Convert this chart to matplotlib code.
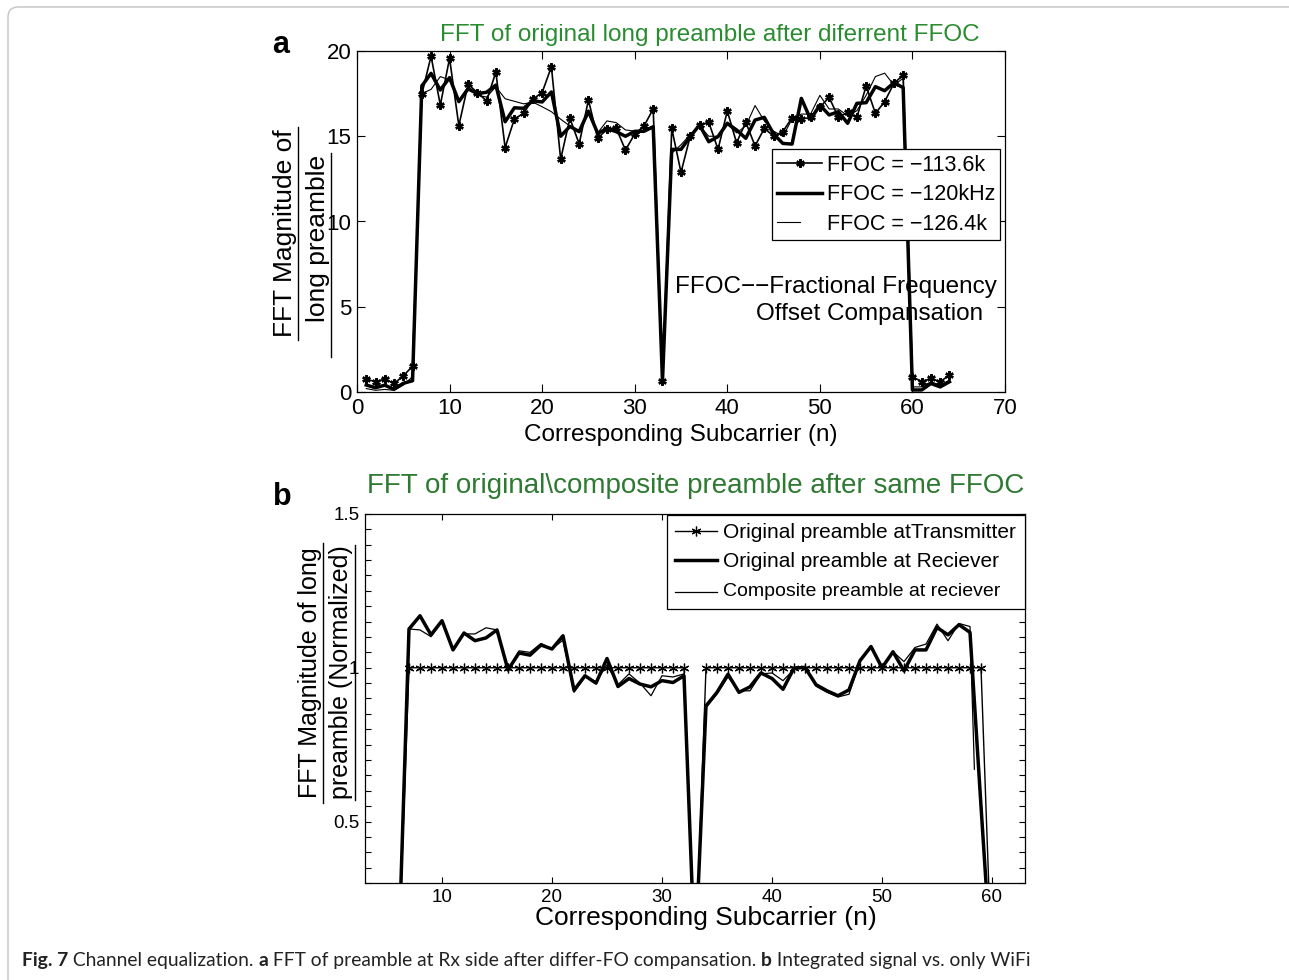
import matplotlib
matplotlib.use("Agg")
import matplotlib.pyplot as plt
from matplotlib.patches import FancyBboxPatch
from matplotlib.lines import Line2D
from matplotlib.legend_handler import HandlerLine2D
from matplotlib.ticker import MultipleLocator, FixedLocator

plt.rcParams['font.family'] = ['Liberation Sans', 'DejaVu Sans']
plt.rcParams['axes.unicode_minus'] = True

# ---------------- data: panel a ----------------
subcarriers = list(range(1, 65))

ffoc_113_6k = [0.76, 0.60, 0.76, 0.50, 0.94, 1.52, 17.46, 19.70, 16.83, 19.57,
               15.62, 18.05, 17.56, 17.07, 18.77, 14.33, 16.01, 16.35, 17.18, 17.56,
               19.08, 13.65, 16.05, 14.55, 17.13, 14.88, 15.41, 15.47, 14.19, 15.13,
               15.60, 16.60, 0.63, 15.46, 12.88, 15.01, 15.66, 15.82, 14.23, 16.48,
               14.62, 15.82, 14.43, 15.46, 15.01, 15.27, 16.09, 16.01, 16.10, 16.70,
               17.28, 16.11, 16.40, 16.11, 17.95, 16.34, 17.03, 18.10, 18.59, 0.90,
               0.60, 0.80, 0.60, 1.00]

ffoc_120k = [0.41, 0.25, 0.40, 0.16, 0.51, 0.66, 17.95, 18.69, 17.71, 18.44,
             17.03, 17.78, 17.50, 17.58, 18.00, 15.85, 16.67, 16.64, 17.08, 17.01,
             17.60, 15.00, 15.58, 15.27, 16.47, 15.17, 15.45, 15.27, 15.00, 15.29,
             15.29, 15.56, 0.63, 14.23, 14.23, 14.98, 15.66, 14.68, 14.98, 15.76,
             15.37, 14.88, 15.95, 16.11, 15.13, 14.58, 14.54, 17.22, 15.99, 16.83,
             16.25, 16.44, 15.76, 16.93, 16.97, 17.91, 17.67, 18.14, 17.85, 0.12,
             0.12, 0.50, 0.30, 0.60]

ffoc_126_4k = [0.20, 0.10, 0.15, 0.10, 0.40, 0.90, 17.50, 17.75, 18.50, 18.30,
               17.10, 17.90, 17.40, 17.30, 17.90, 17.20, 17.05, 16.90, 17.00, 16.73,
               16.44, 16.00, 15.60, 15.30, 16.30, 15.20, 15.90, 15.80, 15.37, 15.30,
               15.30, 15.50, 0.63, 14.00, 14.50, 15.10, 15.60, 15.00, 15.00, 15.70,
               15.20, 15.60, 16.80, 15.90, 15.30, 15.00, 16.00, 16.30, 16.30, 17.40,
               16.60, 16.60, 16.20, 16.50, 17.40, 18.50, 18.70, 18.00, 18.40, 0.30,
               0.30, 0.60, 0.40, 0.70]

# ---------------- data: panel b ----------------
tx_preamble = [0, 0, 0, 0, 0, 0] + [1] * 26 + [0] + [1] * 26 + [0, 0, 0, 0, 0]

rx_preamble = [0.03, 0.02, 0.03, 0.01, 0.03, 0.00, 1.126, 1.169, 1.107, 1.153,
               1.058, 1.113, 1.088, 1.097, 1.123, 0.993, 1.048, 1.041, 1.074, 1.061,
               1.104, 0.927, 0.974, 0.950, 1.030, 0.939, 0.965, 0.947, 0.938, 0.958,
               0.952, 0.974, 0.040, 0.876, 0.920, 0.979, 0.920, 0.938, 0.983, 0.965,
               0.930, 0.999, 1.001, 0.945, 0.925, 0.909, 0.928, 1.023, 1.069, 1.000,
               1.052, 0.990, 1.058, 1.058, 1.131, 1.107, 1.140, 1.115, 0.550, 0.000,
               0.02, 0.03, 0.02, 0.04]

composite_subcarriers = list(range(1, 59)) + [58.4]
composite_rx = [0.03, 0.02, 0.03, 0.01, 0.03, 0.00, 1.126, 1.123, 1.101, 1.150,
                1.060, 1.110, 1.110, 1.130, 1.123, 0.993, 1.055, 1.050, 1.079, 1.061,
                1.090, 0.920, 0.970, 0.955, 1.009, 0.945, 0.980, 0.950, 0.909, 0.974,
                0.970, 0.980, 0.040, 0.870, 0.915, 0.970, 0.925, 0.925, 0.980, 0.983,
                0.958, 0.995, 1.000, 0.940, 0.920, 0.905, 0.914, 1.020, 1.069, 1.000,
                1.052, 1.020, 1.066, 1.077, 1.142, 1.088, 1.144, 1.134, 0.670]

W, H = 1289, 980
fig = plt.figure(figsize=(W / 100, H / 100), dpi=100)


def fx(px):
    return px / W


def fy(py):
    return 1 - py / H


class ShiftedLineHandler(HandlerLine2D):
    """Legend line sample that can be shortened and lowered toward the baseline."""

    def __init__(self, width_frac=1.0, drop=0.0, **kw):
        super().__init__(**kw)
        self.width_frac = width_frac
        self.drop = drop

    def create_artists(self, legend, orig_handle, xdescent, ydescent, width,
                       height, fontsize, trans):
        return super().create_artists(legend, orig_handle, xdescent,
                                      ydescent + self.drop * height,
                                      width * self.width_frac, height,
                                      fontsize, trans)


asterisk = (6, 2, 0)

# ---------------- panel a ----------------
ax1 = fig.add_axes([fx(357), fy(392), fx(1005) - fx(357), fy(51) - fy(392)])
l11, = ax1.plot(subcarriers, ffoc_113_6k, color='black', lw=1.2, marker=asterisk,
                ms=6, mew=1.7, label='FFOC = \u2212113.6k')
l12, = ax1.plot(subcarriers, ffoc_120k, color='black', lw=2.5,
                label='FFOC = \u2212120kHz')
l13, = ax1.plot(subcarriers, ffoc_126_4k, color='black', lw=0.8,
                label='FFOC = \u2212126.4k')
ax1.set_xlim(0, 70)
ax1.set_ylim(0, 20)
ax1.xaxis.set_major_locator(MultipleLocator(10))
ax1.yaxis.set_major_locator(MultipleLocator(5))
ax1.tick_params(direction='in', top=True, right=True, length=6, width=0.8,
                labelsize=16, pad=4)
for s in ax1.spines.values():
    s.set_linewidth(0.9)

leg1 = ax1.legend(loc='upper right', bbox_to_anchor=(0.993, 0.712), fontsize=15.5,
                  frameon=True, fancybox=False, framealpha=1, edgecolor='black',
                  handlelength=2.1, handletextpad=0.2, labelspacing=0.40,
                  borderpad=0.25, borderaxespad=0,
                  handler_map={l13: ShiftedLineHandler(width_frac=0.5)})
leg1.get_frame().set_linewidth(0.9)

ax1.text(0.491, 0.308, 'FFOC\u2212\u2212Fractional Frequency', transform=ax1.transAxes,
         fontsize=17.5, ha='left', va='center')
ax1.text(0.616, 0.229, 'Offset Compansation', transform=ax1.transAxes,
         fontsize=17.5, ha='left', va='center')

fig.text(fx(709.5), fy(35), 'FFT of original long preamble after diferrent FFOC',
         color='#2a8c30', fontsize=17.5, ha='center', va='center')
fig.text(fx(681), fy(435), 'Corresponding Subcarrier (n)', fontsize=17.5,
         ha='center', va='center')
fig.text(fx(285), fy(233.5), 'FFT Magnitude of', fontsize=19, rotation=90,
         ha='center', va='center')
fig.text(fx(318), fy(238), 'long preamble', fontsize=19, rotation=90,
         ha='center', va='center')
fig.add_artist(Line2D([fx(298), fx(298)], [fy(127), fy(340)], color='black', lw=1.0))
fig.add_artist(Line2D([fx(331), fx(331)], [fy(153), fy(357)], color='black', lw=1.0))
fig.text(fx(281), fy(45), 'a', fontsize=22, fontweight='bold', ha='center', va='center')

# ---------------- panel b ----------------
ax2 = fig.add_axes([fx(365), fy(883), fx(1025) - fx(365), fy(514) - fy(883)])
ax2.plot(subcarriers, tx_preamble, color='black', lw=1.0, marker=asterisk,
         ms=7, mew=0.9, label='Original preamble atTransmitter')
ax2.plot(subcarriers, rx_preamble, color='black', lw=2.5,
         label='Original preamble at Reciever')
l23, = ax2.plot(composite_subcarriers, composite_rx, color='black', lw=0.9,
                label='Composite preamble at reciever')
ax2.set_xlim(3, 63)
ax2.set_ylim(0.3, 1.5)
ax2.xaxis.set_major_locator(FixedLocator([10, 20, 30, 40, 50, 60]))
ax2.yaxis.set_major_locator(FixedLocator([0.5, 1.0, 1.5]))
ax2.yaxis.set_minor_locator(MultipleLocator(0.05))
ax2.set_yticklabels(['0.5', '1', '1.5'])
ax2.tick_params(which='both', direction='in', top=True, right=True, length=4.5,
                width=0.8, labelsize=13.5, pad=4)
for s in ax2.spines.values():
    s.set_linewidth(0.9)

leg2 = ax2.legend(loc='upper right', bbox_to_anchor=(1.0, 0.998), fontsize=15,
                  frameon=True, fancybox=False, framealpha=1, edgecolor='black',
                  handlelength=2.0, handletextpad=0.3, labelspacing=0.48,
                  borderpad=0.42, borderaxespad=0,
                  handler_map={l23: ShiftedLineHandler(drop=0.4)})
leg2.get_frame().set_linewidth(0.9)
leg2.get_texts()[2].set_fontsize(14)

fig.text(fx(695.5), fy(486), 'FFT of original\\composite preamble after same FFOC',
         color='#2f7a32', fontsize=20, ha='center', va='center')
fig.text(fx(706), fy(918), 'Corresponding Subcarrier (n)', fontsize=19,
         ha='center', va='center')
fig.text(fx(309.5), fy(673), 'FFT Magnitude of long', fontsize=18, rotation=90,
         ha='center', va='center')
fig.text(fx(341), fy(672), 'preamble (Normalized)', fontsize=18, rotation=90,
         ha='center', va='center')
fig.add_artist(Line2D([fx(323), fx(323)], [fy(543), fy(803)], color='black', lw=1.0))
fig.add_artist(Line2D([fx(355), fx(355)], [fy(545), fy(800)], color='black', lw=1.0))
fig.text(fx(282), fy(497), 'b', fontsize=22, fontweight='bold', ha='center', va='center')

# ---------------- frame and caption ----------------
frame = FancyBboxPatch((0.08, -1.0), 20, 9.73 + 1.0, boxstyle='round,pad=0,rounding_size=0.1',
                       transform=fig.dpi_scale_trans, facecolor='none',
                       edgecolor='#c4c4c4', lw=1.0)
fig.add_artist(frame)

caption = [('Fig. 7', 'bold'), (' Channel equalization. ', 'normal'), ('a', 'bold'),
           (' FFT of preamble at Rx side after differ-FO compansation. ', 'normal'),
           ('b', 'bold'), (' Integrated signal vs. only WiFi', 'normal')]
renderer = fig.canvas.get_renderer()
base_size = 12.0
tmp = []
total = 0.0
for txt, wt in caption:
    t = fig.text(0, 0, txt, fontsize=base_size, fontweight=wt, family='Lato')
    total += t.get_window_extent(renderer).width
    tmp.append(t)
for t in tmp:
    t.remove()
size = base_size * 1008.0 / total
x = 22.0
for txt, wt in caption:
    t = fig.text(fx(x), fy(960), txt, fontsize=size, fontweight=wt, family='Lato',
                 color='#222222', ha='left', va='center')
    x += t.get_window_extent(renderer).width

fig.savefig('out.png', dpi=100)
